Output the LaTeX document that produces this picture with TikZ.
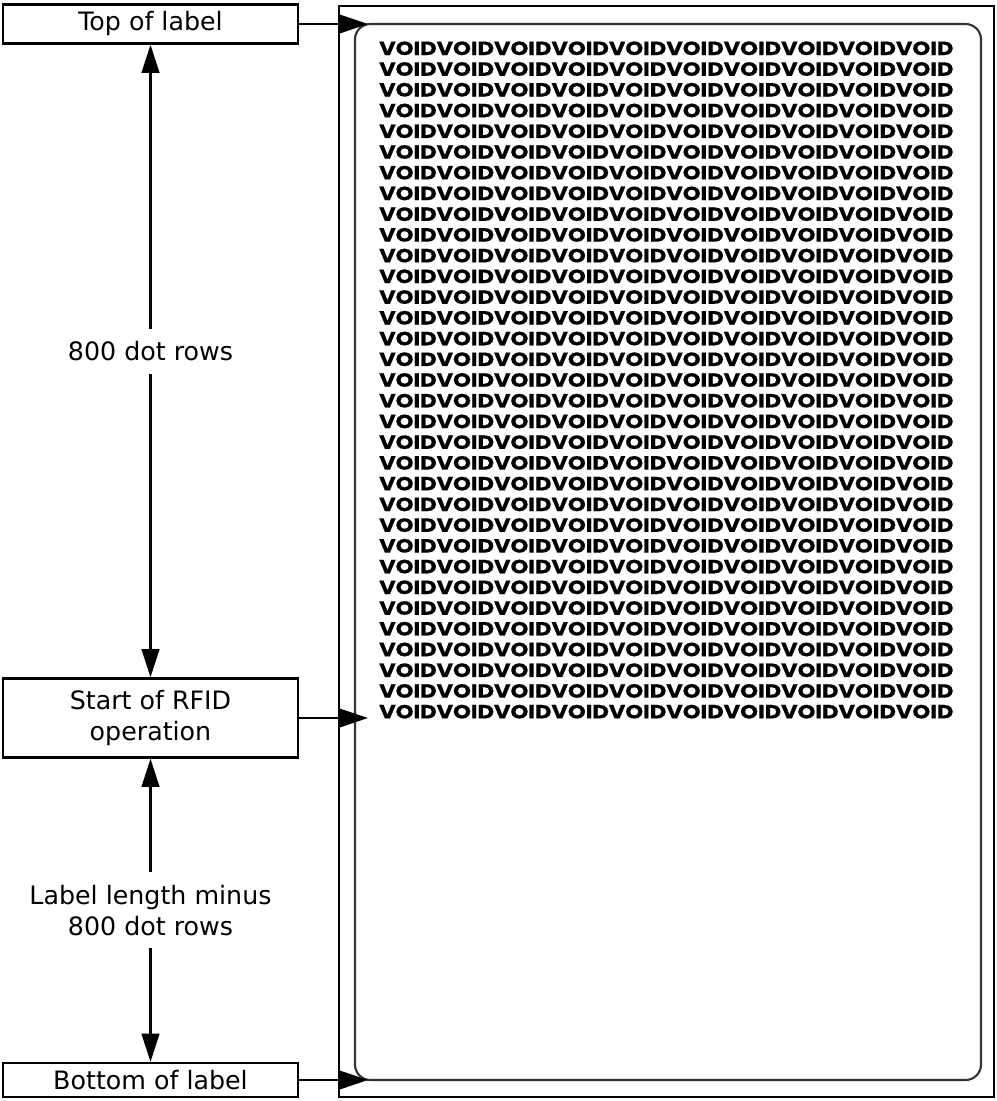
\documentclass[tikz,border=0pt]{standalone}
\usepackage{fontspec}
\setmainfont{DejaVu Sans}
\newfontfamily\voidfont{Poppins}[BoldFeatures={FakeBold=0.6}]
\usetikzlibrary{arrows.meta,positioning}

\begin{document}
\begin{tikzpicture}[
  x=0.025cm, y=-0.025cm, line width=1.7pt,
  box/.style={draw, minimum width=7.375cm, align=center, inner sep=0pt,
              font=\fontsize{18}{22}\selectfont},
  arr/.style={-{Triangle[length=20pt,width=13pt]}},
  dim/.style={{Triangle[length=20pt,width=12.5pt]}-{Triangle[length=20pt,width=12.5pt]}},
  lbl/.style={fill=white, align=center, inner xsep=2pt, inner ysep=9pt,
              font=\fontsize{18}{22}\selectfont},
  voidrow/.style={anchor=west, inner sep=0pt, font=\voidfont\bfseries},
]
\useasboundingbox (0,0) rectangle (997,1101);

% label stock
\draw (339,6) rectangle (994,1097);
\draw[black!80, line width=1.5pt, rounded corners=11pt] (355,24) rectangle (981,1080);
\foreach \i in {0,...,32}
  \node[voidrow] (row\i) at (378,48.3+20.73*\i)
    {\resizebox{14.35cm}{0.34cm}{VOIDVOIDVOIDVOIDVOIDVOIDVOIDVOIDVOIDVOID}};

% positions
\node[box, minimum height=0.975cm] (top) at (150.5,24) {Top of label};
\node[box, minimum height=1.975cm] (start) at (150.5,718) {Start of RFID\\operation};
\node[box, minimum height=0.85cm] (bottom) at (150.5,1080) {Bottom of label};

\coordinate (ptop) at (368,24);
\coordinate (pstart) at (368,718);
\coordinate (pbottom) at (368,1080);

\draw[arr] (top) -- (ptop);
\draw[arr] (start) -- (pstart);
\draw[arr] (bottom) -- (pbottom);

\draw[dim] (top) -- node[lbl, pos=0.485] (rows) {800 dot rows} (start);
\draw[dim] (start) -- node[lbl] (minus) {Label length minus\\800 dot rows} (bottom);
\end{tikzpicture}
\end{document}
